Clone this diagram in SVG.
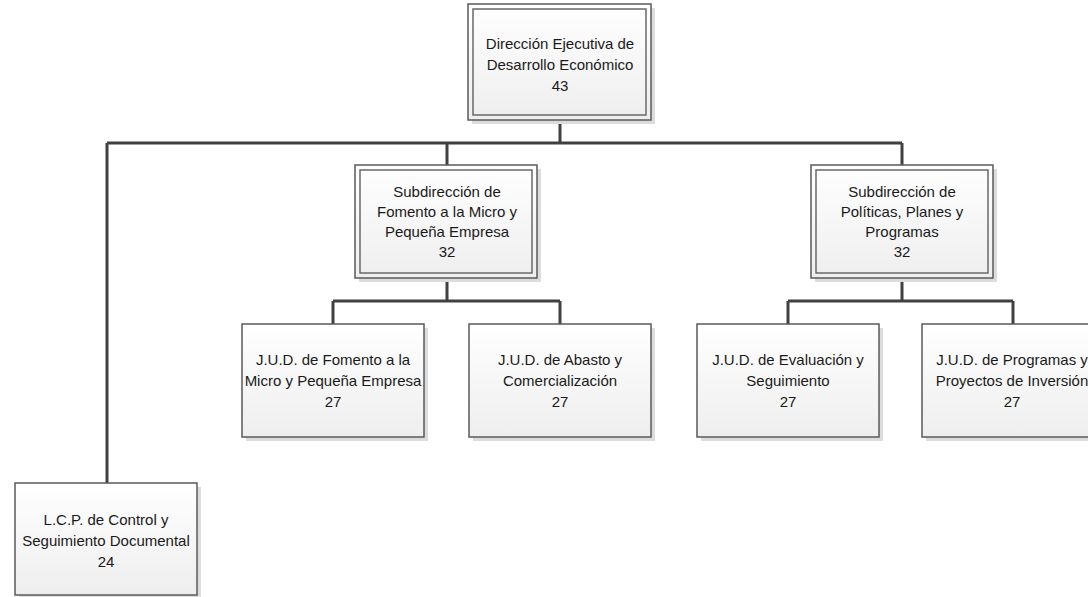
<svg xmlns="http://www.w3.org/2000/svg" width="1088" height="597" viewBox="0 0 1088 597">
<defs>
<linearGradient id="g" x1="0" y1="0" x2="0" y2="1">
<stop offset="0" stop-color="#ffffff"/>
<stop offset="1" stop-color="#eeeeee"/>
</linearGradient>
<style>
.sh{fill:#dcdcdc}
.bx{fill:url(#g);stroke:#5a5a5a;stroke-width:1.5}
.in{fill:none;stroke:#6a6a6a;stroke-width:1.5}
.t{font-family:"Liberation Sans",Arial,sans-serif;font-size:15px;fill:#1a1a1a;text-anchor:middle}
.c{fill:none;stroke:#404040;stroke-width:3}
</style>
</defs>
<rect width="1088" height="597" fill="#ffffff"/>
<g id="connectors">
<path class="c" d="M560 120V143M107 143H902M107 143V483M447 143V165M902 143V165"/>
<path class="c" d="M447 278V301M333 301H560M333 301V324M560 301V324"/>
<path class="c" d="M902 278V301M788 301H1013M788 301V324M1013 301V324"/>
</g>
<g id="n1">
<rect class="sh" x="472" y="8" width="183" height="116"/>
<rect class="bx" x="468" y="4" width="183" height="116"/>
<rect class="in" x="473" y="9" width="173" height="106"/>
<text class="t" x="560" y="49">Dirección Ejecutiva de</text>
<text class="t" x="560" y="70">Desarrollo Económico</text>
<text class="t" x="560" y="91">43</text>
</g>
<g id="n2">
<rect class="sh" x="359" y="169" width="182" height="113"/>
<rect class="bx" x="355" y="165" width="182" height="113"/>
<rect class="in" x="360" y="170" width="172" height="103"/>
<text class="t" x="447" y="197">Subdirección de</text>
<text class="t" x="447" y="217">Fomento a la Micro y</text>
<text class="t" x="447" y="237">Pequeña Empresa</text>
<text class="t" x="447" y="257">32</text>
</g>
<g id="n3">
<rect class="sh" x="815" y="169" width="182" height="113"/>
<rect class="bx" x="811" y="165" width="182" height="113"/>
<rect class="in" x="816" y="170" width="172" height="103"/>
<text class="t" x="902" y="197">Subdirección de</text>
<text class="t" x="902" y="217">Políticas, Planes y</text>
<text class="t" x="902" y="237">Programas</text>
<text class="t" x="902" y="257">32</text>
</g>
<g id="n4">
<rect class="sh" x="246" y="328" width="182" height="113"/>
<rect class="bx" x="242" y="324" width="182" height="113"/>
<text class="t" x="333" y="365">J.U.D. de Fomento a la</text>
<text class="t" x="333" y="386">Micro y Pequeña Empresa</text>
<text class="t" x="333" y="407">27</text>
</g>
<g id="n5">
<rect class="sh" x="473" y="328" width="182" height="113"/>
<rect class="bx" x="469" y="324" width="182" height="113"/>
<text class="t" x="560" y="365">J.U.D. de Abasto y</text>
<text class="t" x="560" y="386">Comercialización</text>
<text class="t" x="560" y="407">27</text>
</g>
<g id="n6">
<rect class="sh" x="701" y="328" width="182" height="113"/>
<rect class="bx" x="697" y="324" width="182" height="113"/>
<text class="t" x="788" y="365">J.U.D. de Evaluación y</text>
<text class="t" x="788" y="386">Seguimiento</text>
<text class="t" x="788" y="407">27</text>
</g>
<g id="n7">
<rect class="sh" x="926" y="328" width="182" height="113"/>
<rect class="bx" x="922" y="324" width="182" height="113"/>
<text class="t" x="1012" y="365">J.U.D. de Programas y</text>
<text class="t" x="1012" y="386">Proyectos de Inversión</text>
<text class="t" x="1012" y="407">27</text>
</g>
<g id="n8">
<rect class="sh" x="19" y="487" width="182" height="113"/>
<rect class="bx" x="15" y="483" width="182" height="112"/>
<text class="t" x="106" y="525">L.C.P. de Control y</text>
<text class="t" x="106" y="546">Seguimiento Documental</text>
<text class="t" x="106" y="567">24</text>
</g>
</svg>
